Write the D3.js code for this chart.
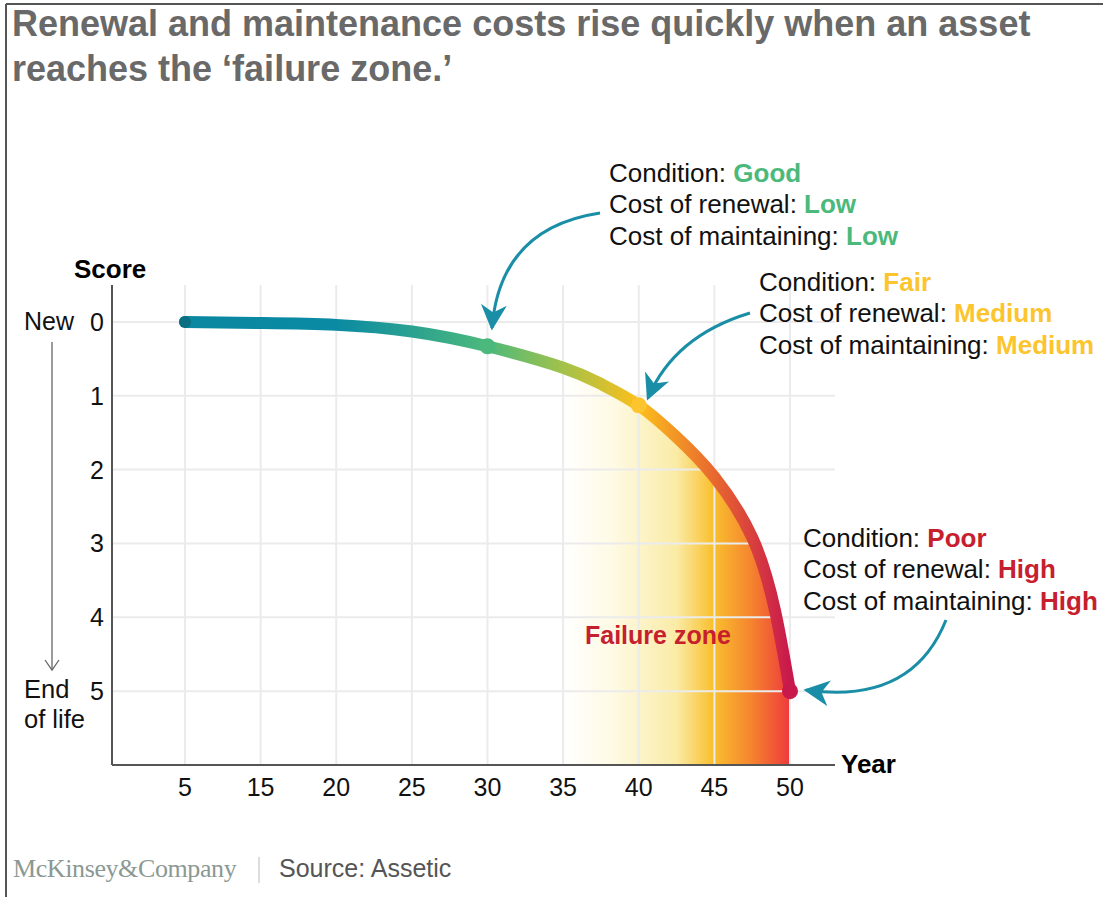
<!doctype html>
<html>
<head>
<meta charset="utf-8">
<title>Failure zone</title>
<script src="https://d3js.org/d3.v7.min.js"></script>
<style>
  body { margin: 0; background: #fff; }
  text { font-family: 'Liberation Sans', Arial, Helvetica, sans-serif; }
</style>
</head>
<body>
<svg id="chart" width="1103" height="897"></svg>
<script>
// chart data
const years = [5, 15, 20, 25, 30, 35, 40, 45, 50];
const scores = [0, 1, 2, 3, 4, 5];
const curveYears  = [5, 15, 20, 25, 30, 35, 37.5, 40, 42.5, 45, 47.5, 49, 50];
const curveScores = [0, 0.015, 0.04, 0.13, 0.33, 0.62, 0.84, 1.13, 1.56, 2.1, 2.92, 3.9, 5.0];
const markerYears = [30, 40, 50];
const failureStart = 35;

const titleLines = ["Renewal and maintenance costs rise quickly when an asset",
                    "reaches the \u2018failure zone.\u2019"];
const notes = [
  {year: 30, lines: [["Condition: ", "Good"], ["Cost of renewal: ", "Low"], ["Cost of maintaining: ", "Low"]], color: "#4cb97c"},
  {year: 40, lines: [["Condition: ", "Fair"], ["Cost of renewal: ", "Medium"], ["Cost of maintaining: ", "Medium"]], color: "#fcc42d"},
  {year: 50, lines: [["Condition: ", "Poor"], ["Cost of renewal: ", "High"], ["Cost of maintaining: ", "High"]], color: "#c6202f"}
];

var svg = d3.select("#chart");
var defs = svg.append("defs");

// frame lines (top and left)
svg.append("line").attr("x1", 6).attr("x2", 1103).attr("y1", 4).attr("y2", 4)
   .attr("stroke", "#555").attr("stroke-width", 2);
svg.append("line").attr("x1", 6).attr("x2", 6).attr("y1", 4).attr("y2", 897)
   .attr("stroke", "#555").attr("stroke-width", 2);

// title
svg.append("text").attr("x", 12).attr("y", 36)
   .attr("fill", "#696969").attr("font-size", 36).attr("font-weight", "bold")
   .selectAll("tspan").data(titleLines).enter().append("tspan")
   .attr("x", 12).attr("dy", (d, i) => i == 0 ? 0 : 45)
   .text(d => d);

// scales
var xPoint = d3.scalePoint().domain(years).range([185, 790]);
var x = d3.scaleLinear().domain(years).range(years.map(d => xPoint(d)));
var y = d3.scaleLinear().domain([-0.5, 6.0]).range([285, 765]);
var axisLeft = 112, axisRight = 835;

// failure zone area
var fz = defs.append("linearGradient").attr("id", "fzGrad")
   .attr("gradientUnits", "userSpaceOnUse")
   .attr("x1", x(failureStart)).attr("x2", x(50)).attr("y1", 0).attr("y2", 0);
[[0, "#ffffff"], [0.22, "#fefae4"], [0.5, "#faeba5"], [0.66, "#f9c02e"],
 [0.83, "#f5842e"], [1, "#ee3a3c"]].forEach(s =>
  fz.append("stop").attr("offset", s[0]).attr("stop-color", s[1]));

var pts = curveYears.map((d, i) => ({year: d, score: curveScores[i]}));
var line = d3.line().x(d => x(d.year)).y(d => y(d.score)).curve(d3.curveNatural);
// area under the same smooth curve: trace the line, then close along the x axis
var zonePts = pts.filter(d => d.year >= failureStart);
svg.append("path")
   .attr("d", line(zonePts) + "L" + x(50) + "," + y(6.0) + "L" + x(failureStart) + "," + y(6.0) + "Z")
   .attr("fill", "url(#fzGrad)");

// grid
svg.append("g").selectAll("line").data(years).enter().append("line")
   .attr("x1", d => x(d)).attr("x2", d => x(d))
   .attr("y1", y(-0.5)).attr("y2", y(6.0))
   .attr("stroke", "#ebebeb").attr("stroke-width", 2);
svg.append("g").selectAll("line").data(scores).enter().append("line")
   .attr("x1", axisLeft).attr("x2", axisRight)
   .attr("y1", d => y(d)).attr("y2", d => y(d))
   .attr("stroke", "#ebebeb").attr("stroke-width", 2);

// axes
svg.append("line").attr("x1", axisLeft).attr("x2", axisLeft)
   .attr("y1", y(-0.5)).attr("y2", y(6.0)).attr("stroke", "#555").attr("stroke-width", 2);
svg.append("line").attr("x1", axisLeft).attr("x2", axisRight)
   .attr("y1", y(6.0)).attr("y2", y(6.0)).attr("stroke", "#555").attr("stroke-width", 2);

svg.append("g").selectAll("text").data(scores).enter().append("text")
   .attr("x", 104).attr("y", d => y(d) + 9).attr("text-anchor", "end")
   .attr("font-size", 25).attr("fill", "#111").text(d => d);
svg.append("g").selectAll("text").data(years).enter().append("text")
   .attr("x", d => x(d)).attr("y", 796).attr("text-anchor", "middle")
   .attr("font-size", 25).attr("fill", "#111").text(d => d);

svg.append("text").attr("x", 74).attr("y", 278).attr("font-size", 26)
   .attr("font-weight", "bold").attr("fill", "#000").text("Score");
svg.append("text").attr("x", 841).attr("y", 773).attr("font-size", 26)
   .attr("font-weight", "bold").attr("fill", "#000").text("Year");

svg.append("text").attr("x", 24).attr("y", 330).attr("font-size", 25)
   .attr("fill", "#111").text("New");
svg.append("text").attr("x", 24).attr("y", 698).attr("font-size", 25.5)
   .attr("fill", "#111").text("End");
svg.append("text").attr("x", 24).attr("y", 728).attr("font-size", 25.5)
   .attr("fill", "#111").text("of life");
svg.append("line").attr("x1", 52).attr("x2", 52).attr("y1", 342).attr("y2", 669)
   .attr("stroke", "#666").attr("stroke-width", 1.3);
svg.append("path").attr("d", "M45,660 L52,670 L59,660")
   .attr("fill", "none").attr("stroke", "#666").attr("stroke-width", 1.3);

// curve with gradient along x
var lg = defs.append("linearGradient").attr("id", "lineGrad")
   .attr("gradientUnits", "userSpaceOnUse")
   .attr("x1", x(5)).attr("x2", x(50)).attr("y1", 0).attr("y2", 0);
[[0, "#0a87a1"], [0.25, "#0a8aa3"], [0.5, "#4cb97c"], [0.625, "#a2c24a"],
 [0.75, "#fcbf1c"], [0.875, "#e8682f"], [1, "#c8184c"]].forEach(s =>
  lg.append("stop").attr("offset", s[0]).attr("stop-color", s[1]));

svg.append("path").datum(pts).attr("d", line)
   .attr("fill", "none").attr("stroke", "url(#lineGrad)")
   .attr("stroke-width", 12).attr("stroke-linecap", "round");

svg.append("circle").attr("cx", x(5)).attr("cy", y(0)).attr("r", 6).attr("fill", "#0a6f80");
var markerColors = ["#4cb97c", "#fcc42d", "#c8184c"];
svg.append("g").selectAll("circle").data(markerYears).enter().append("circle")
   .attr("cx", d => x(d))
   .attr("cy", d => y(curveScores[curveYears.indexOf(d)]))
   .attr("r", 8).attr("fill", (d, i) => markerColors[i]);

svg.append("text").attr("x", 585).attr("y", 644).attr("font-size", 25)
   .attr("font-weight", "bold").attr("fill", "#c6202f").text("Failure zone");

// annotations
var notePos = [[609, 182], [759, 291], [803, 547]];
notes.forEach(function(n, k) {
  var g = svg.append("text").attr("font-size", 26).attr("fill", "#111");
  n.lines.forEach(function(l, i) {
    g.append("tspan").attr("x", notePos[k][0]).attr("y", notePos[k][1] + i * 31.3).text(l[0]);
    g.append("tspan").attr("font-weight", "bold").attr("fill", n.color).text(l[1]);
  });
});

// arrows
defs.append("marker").attr("id", "head").attr("viewBox", "0 0 10 10")
   .attr("refX", 9).attr("refY", 5).attr("markerUnits", "userSpaceOnUse")
   .attr("markerWidth", 28).attr("markerHeight", 26).attr("orient", "auto")
   .append("path").attr("d", "M0,0 L10,5 L0,10 L3,5 Z").attr("fill", "#1a8ea6");

var arrows = ["M600,213 Q500,228 492,328",
              "M750,313 Q674,336 648,398",
              "M946,620 Q912,705 806,690"];
svg.append("g").selectAll("path").data(arrows).enter().append("path")
   .attr("d", d => d).attr("fill", "none").attr("stroke", "#1a8ea6")
   .attr("stroke-width", 3).attr("marker-end", "url(#head)");

// footer
svg.append("text").attr("x", 13).attr("y", 877).attr("font-size", 26)
   .style("font-family", "'Liberation Serif', 'DejaVu Serif', serif")
   .attr("fill", "#8b9893").attr("letter-spacing", -0.4).text("McKinsey&Company");
svg.append("line").attr("x1", 259).attr("x2", 259).attr("y1", 857).attr("y2", 883)
   .attr("stroke", "#bbb").attr("stroke-width", 1);
svg.append("text").attr("x", 279).attr("y", 877).attr("font-size", 25)
   .attr("fill", "#555").text("Source: Assetic");
</script>
</body>
</html>
